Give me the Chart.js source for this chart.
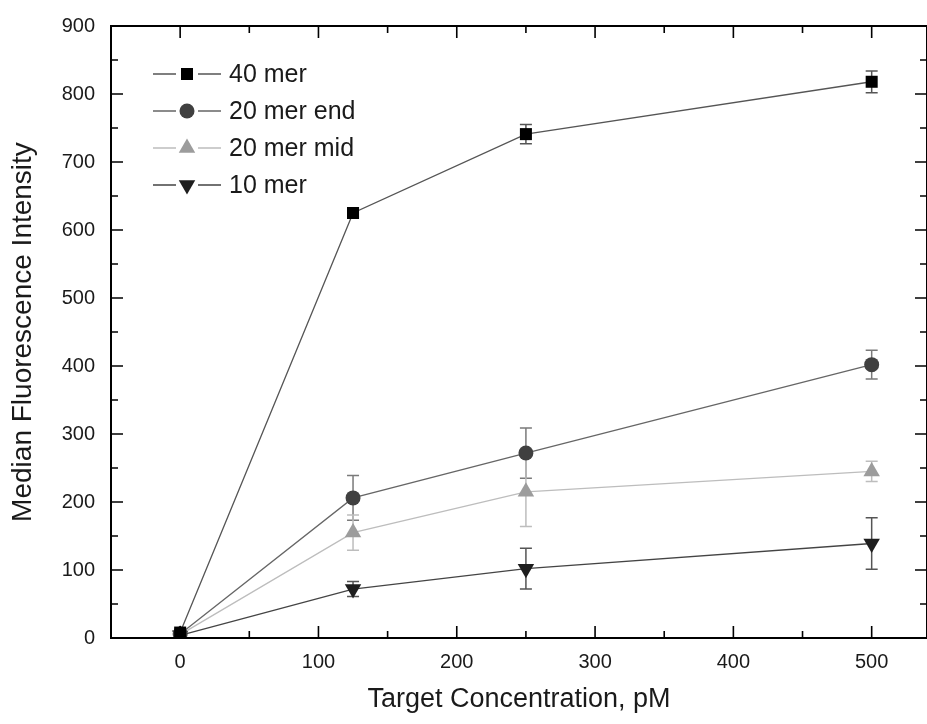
<!DOCTYPE html>
<html>
<head>
<meta charset="utf-8">
<script src="https://cdn.jsdelivr.net/npm/chart.js@4"></script>
<style>
  html, body { margin: 0; padding: 0; background: #fff; }
  #wrap { width: 927px; height: 724px; }
</style>
</head>
<body>
<div id="wrap"><canvas id="fluoChart" width="927" height="724"></canvas></div>
<script>
// Concentrations (pM)
const concentrations = [0, 125, 250, 500];

// Median fluorescence per probe length, with error
const mer40 = [8, 625, 741, 818];
const mer40Err = [3, 6, 14, 16];
const mer20End = [6, 206, 272, 402];
const mer20EndErr = [3, 33, 37, 21];
const mer20Mid = [5, 155, 215, 245];
const mer20MidErr = [3, 26, 51, 15];
const mer10 = [4, 72, 102, 139];
const mer10Err = [3, 11, 30, 38];

// Axis ticks
const xTickValues = [0, 100, 200, 300, 400, 500];
const yTickValues = [0, 100, 200, 300, 400, 500, 600, 700, 800, 900];

const FONT = '"Liberation Sans", Arial, Helvetica, sans-serif';

function toPoints(ys) {
    return concentrations.map((x, i) => ({ x: x, y: ys[i] }));
}

const series = [
    { label: '40 mer', values: mer40, err: mer40Err, style: 'rect', radius: 8.5, rotation: 0,
      fill: '#000000', line: '#555555', errColor: '#555555' },
    { label: '20 mer end', values: mer20End, err: mer20EndErr, style: 'circle', radius: 7.5, rotation: 0,
      fill: '#404040', line: '#666666', errColor: '#7a7a7a' },
    { label: '20 mer mid', values: mer20Mid, err: mer20MidErr, style: 'triangle', radius: 9.5, rotation: 0,
      fill: '#9c9c9c', line: '#bdbdbd', errColor: '#bdbdbd' },
    { label: '10 mer', values: mer10, err: mer10Err, style: 'triangle', radius: 9.5, rotation: 180,
      fill: '#1e1e1e', line: '#444444', errColor: '#555555' }
];

const data = {
    datasets: series.map(s => ({
        label: s.label,
        data: toPoints(s.values),
        errors: s.err,
        errColor: s.errColor,
        borderColor: s.line,
        borderWidth: 1.3,
        pointStyle: s.style,
        pointRadius: s.radius,
        pointRotation: s.rotation,
        pointBackgroundColor: s.fill,
        pointBorderColor: s.fill,
        pointBorderWidth: 0,
        tension: 0,
        fill: false
    }))
};

// Error bars drawn under the markers
const errorBars = {
    id: 'errorBars',
    beforeDatasetsDraw(chart) {
        const ctx = chart.ctx;
        const xs = chart.scales.x, ys = chart.scales.y;
        ctx.save();
        chart.data.datasets.forEach(ds => {
            ctx.strokeStyle = ds.errColor;
            ctx.lineWidth = 1.5;
            ds.data.forEach((p, i) => {
                const e = ds.errors[i];
                const px = xs.getPixelForValue(p.x);
                const top = ys.getPixelForValue(p.y + e);
                const bot = ys.getPixelForValue(Math.max(0, p.y - e));
                ctx.beginPath();
                ctx.moveTo(px, top); ctx.lineTo(px, bot);
                ctx.moveTo(px - 6, top); ctx.lineTo(px + 6, top);
                ctx.moveTo(px - 6, bot); ctx.lineTo(px + 6, bot);
                ctx.stroke();
            });
        });
        ctx.restore();
    }
};

// Frame with inward ticks on all four sides
const frame = {
    id: 'frame',
    afterDraw(chart) {
        const ctx = chart.ctx;
        const a = chart.chartArea;
        const xs = chart.scales.x, ys = chart.scales.y;
        ctx.save();
        ctx.strokeStyle = '#000';
        ctx.lineWidth = 2;
        ctx.strokeRect(a.left, a.top, a.right - a.left, a.bottom - a.top);
        ctx.lineWidth = 1.6;
        ctx.beginPath();
        for (let v = 0; v <= 550; v += 50) {
            const px = xs.getPixelForValue(v);
            if (px > a.right) continue;
            const len = v % 100 === 0 ? 12 : 7;
            ctx.moveTo(px, a.bottom); ctx.lineTo(px, a.bottom - len);
            ctx.moveTo(px, a.top); ctx.lineTo(px, a.top + len);
        }
        for (let v = 50; v < 900; v += 50) {
            const py = ys.getPixelForValue(v);
            const len = v % 100 === 0 ? 12 : 7;
            ctx.moveTo(a.left, py); ctx.lineTo(a.left + len, py);
            ctx.moveTo(a.right, py); ctx.lineTo(a.right - len, py);
        }
        ctx.stroke();
        ctx.restore();
    }
};

// Legend: line - marker - line, then the label
const lineLegend = {
    id: 'lineLegend',
    afterDatasetsDraw(chart) {
        const ctx = chart.ctx;
        ctx.save();
        chart.data.datasets.forEach((ds, i) => {
            const y = 74 + i * 37;
            ctx.strokeStyle = ds.borderColor;
            ctx.lineWidth = 1.3;
            ctx.beginPath();
            ctx.moveTo(153, y); ctx.lineTo(176, y);
            ctx.moveTo(198, y); ctx.lineTo(221, y);
            ctx.stroke();
            ctx.fillStyle = ds.pointBackgroundColor;
            ctx.strokeStyle = ds.pointBackgroundColor;
            Chart.helpers.drawPoint(ctx, {
                pointStyle: ds.pointStyle,
                radius: ds.pointRadius,
                rotation: ds.pointRotation,
                borderWidth: 0
            }, 187, y);
            ctx.fillStyle = '#1a1a1a';
            ctx.font = '25px ' + FONT;
            ctx.textBaseline = 'middle';
            ctx.textAlign = 'left';
            ctx.fillText(ds.label, 229, y + 1);
        });
        ctx.restore();
    }
};

const config = {
    type: 'line',
    data: data,
    options: {
        responsive: false,
        animation: false,
        layout: { autoPadding: false, padding: { top: 26, right: 0, left: 0, bottom: 0 } },
        plugins: {
            legend: { display: false },
            tooltip: { enabled: false }
        },
        scales: {
            x: {
                type: 'linear',
                min: -50,
                max: 540,
                grid: { display: false, drawTicks: false },
                border: { display: false },
                afterBuildTicks: (scale) => { scale.ticks = xTickValues.map(v => ({ value: v })); },
                afterFit: (scale) => {
                    scale.height = 86;
                    scale.paddingLeft = 0;
                    scale.paddingRight = 0;
                },
                ticks: {
                    padding: 12,
                    color: '#1a1a1a',
                    font: { family: FONT, size: 20 },
                    maxRotation: 0
                },
                title: {
                    display: true,
                    text: 'Target Concentration, pM',
                    color: '#1a1a1a',
                    font: { family: FONT, size: 27 },
                    padding: { top: 0, bottom: 8 }
                }
            },
            y: {
                min: 0,
                max: 900,
                grid: { display: false, drawTicks: false },
                border: { display: false },
                afterBuildTicks: (scale) => { scale.ticks = yTickValues.map(v => ({ value: v })); },
                afterFit: (scale) => {
                    scale.width = 111;
                    scale.paddingTop = 0;
                    scale.paddingBottom = 0;
                },
                ticks: {
                    padding: 16,
                    color: '#1a1a1a',
                    font: { family: FONT, size: 20 }
                },
                title: {
                    display: true,
                    text: 'Median Fluorescence Intensity',
                    color: '#1a1a1a',
                    font: { family: FONT, size: 28 },
                    padding: { top: 6, bottom: 0 }
                }
            }
        }
    },
    plugins: [errorBars, frame, lineLegend]
};

document.addEventListener('DOMContentLoaded', () => {
    const ctx = document.getElementById('fluoChart').getContext('2d');
    new Chart(ctx, config);
});
</script>
</body>
</html>
